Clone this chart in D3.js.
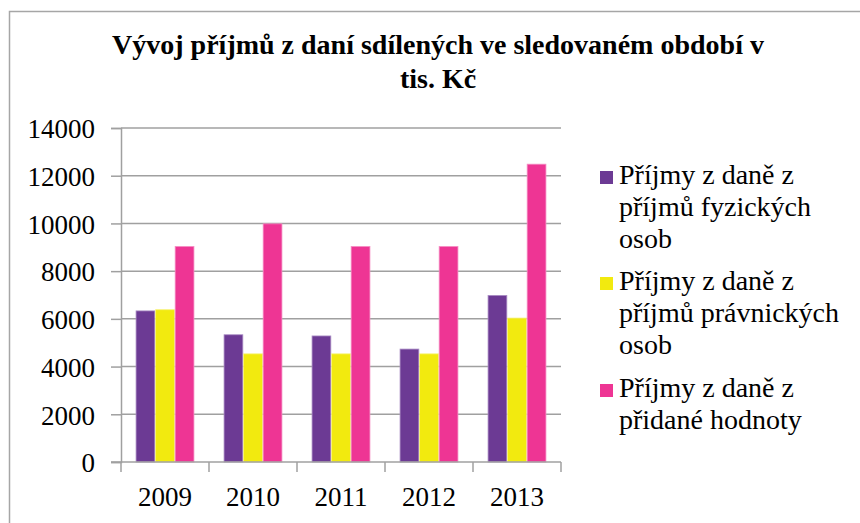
<!DOCTYPE html>
<html>
<head>
<meta charset="utf-8">
<script src="https://cdn.jsdelivr.net/npm/d3@7"></script>
<style>
  html, body { margin: 0; padding: 0; background: #fff; }
  svg { display: block; }
</style>
</head>
<body>
<svg id="chart" width="860" height="523"></svg>
<script>
const titleLines = ["Vývoj příjmů z daní sdílených ve sledovaném období v", "tis. Kč"];
const categories = ["2009", "2010", "2011", "2012", "2013"];
const seriesNames = [
  ["Příjmy z daně z", "příjmů fyzických", "osob"],
  ["Příjmy z daně z", "příjmů právnických", "osob"],
  ["Příjmy z daně z", "přidané hodnoty"]
];
const fyzicke = [6350, 5350, 5300, 4750, 7000];
const pravnicke = [6400, 4550, 4550, 4550, 6050];
const dph = [9050, 10000, 9050, 9050, 12500];
const yTicks = [0, 2000, 4000, 6000, 8000, 10000, 12000, 14000];
const colors = ["#6C3A94", "#F2EA0F", "#EE3594"];
const outlines = ["#A98CC4", "#F7F27A", "#F58CC3"];

const seriesValues = [fyzicke, pravnicke, dph];
const FONT = "'Liberation Serif', 'Times New Roman', serif";

const svg = d3.select("#chart");

// outer frame (extends past right/bottom edges)
svg.append("path")
  .attr("d", "M9.5,530 L9.5,11.5 L870,11.5")
  .attr("fill", "none").attr("stroke", "#a6a6a6").attr("stroke-width", 1.5);

// title
svg.append("g").selectAll("text").data(titleLines).join("text")
  .attr("x", 438).attr("y", (d, i) => 54 + i * 34)
  .attr("text-anchor", "middle")
  .attr("font-family", FONT)
  .attr("font-size", 28).attr("font-weight", "bold")
  .attr("fill", "#000")
  .text(d => d);

const x0 = d3.scaleBand().domain(categories).range([121, 561]).paddingInner(0).paddingOuter(0);
const y = d3.scaleLinear().domain([0, 14000]).range([462, 128]);

const step = x0.bandwidth();
const barW = step / 4.5;
const x1 = d3.scaleBand().domain(d3.range(3)).range([0.75 * barW, 3.75 * barW]).padding(0);

// gridlines
svg.append("g").selectAll("line").data(yTicks.filter(d => d > 0)).join("line")
  .attr("x1", 121).attr("x2", 561)
  .attr("y1", d => y(d)).attr("y2", d => y(d))
  .attr("stroke", "#a0a0a0").attr("stroke-width", 1.5);

// bars
const groups = svg.append("g").selectAll("g").data(categories).join("g")
  .attr("transform", d => `translate(${x0(d)},0)`);
groups.selectAll("rect")
  .data((c, ci) => seriesValues.map((vals, si) => ({ si, v: vals[ci] })))
  .join("rect")
  .attr("x", d => x1(d.si) + 0.4)
  .attr("width", x1.bandwidth() - 0.8)
  .attr("y", d => y(d.v) + 0.4)
  .attr("height", d => y(0) - y(d.v) - 0.4)
  .attr("fill", d => colors[d.si])
  .attr("stroke", d => outlines[d.si])
  .attr("stroke-width", 0.8);

// y axis
const yAxis = d3.axisLeft(y).tickValues(yTicks).tickFormat(d3.format("d")).tickSize(10).tickPadding(16);
const gy = svg.append("g").attr("transform", "translate(121,0)").call(yAxis);
gy.attr("font-family", FONT);
gy.select(".domain").attr("stroke", "#a0a0a0").attr("stroke-width", 1.5);
gy.selectAll(".tick line").attr("stroke", "#a0a0a0").attr("stroke-width", 1.5);
gy.selectAll(".tick text").attr("font-size", 27).attr("font-family", FONT).attr("fill", "#000").attr("dy", "0.36em");

// x axis: ticks at category boundaries
const gx = svg.append("g").attr("transform", `translate(0,${y(0)})`);
gx.append("line").attr("x1", 111).attr("x2", 561).attr("y1", 0).attr("y2", 0)
  .attr("stroke", "#a0a0a0").attr("stroke-width", 1.5);
const bounds = categories.map(c => x0(c)).concat([x0(categories[categories.length - 1]) + step]);
gx.selectAll("line.tk").data(bounds).join("line").attr("class", "tk")
  .attr("x1", d => d).attr("x2", d => d).attr("y1", 0).attr("y2", 10)
  .attr("stroke", "#a0a0a0").attr("stroke-width", 1.5);
gx.selectAll("text").data(categories).join("text")
  .attr("x", d => x0(d) + step / 2).attr("y", 44)
  .attr("text-anchor", "middle").attr("font-size", 27)
  .attr("font-family", FONT).attr("fill", "#000")
  .text(d => d);

// legend
const legendTop = [184, 290, 397];
const lg = svg.append("g").selectAll("g").data(seriesNames).join("g")
  .attr("transform", (d, i) => `translate(0,${legendTop[i]})`);
lg.append("rect").attr("x", 600).attr("y", -13).attr("width", 13).attr("height", 13)
  .attr("fill", (d, i) => colors[i]);
lg.selectAll("text").data(d => d).join("text")
  .attr("x", 619).attr("y", (d, j) => j * 32)
  .attr("font-family", FONT)
  .attr("font-size", 28).attr("fill", "#000")
  .text(d => d);
</script>
</body>
</html>
